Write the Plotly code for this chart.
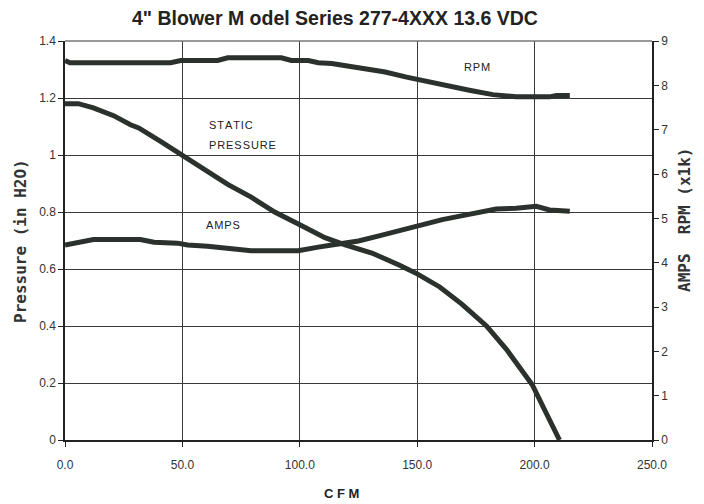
import plotly.graph_objects as go

# Static pressure (in H2O) vs CFM
sp_cfm = [0, 5.7, 12.1, 20.7, 27.9, 31.4, 40.7, 50, 59.3, 69.3, 79.3, 89.3, 100, 110.7, 119.3, 130.7, 142.5, 150, 159.6, 169, 179.5, 188, 199, 206, 210.6]
sp_val = [1.18, 1.18, 1.165, 1.138, 1.106, 1.095, 1.048, 1.0, 0.948, 0.897, 0.852, 0.80, 0.755, 0.71, 0.685, 0.656, 0.613, 0.583, 0.537, 0.477, 0.40, 0.318, 0.194, 0.08, 0.0]

# RPM (x1k) vs CFM
rpm_cfm = [0, 2.1, 45, 49.3, 65, 69.3, 92.1, 96.4, 103.6, 107.9, 113.6, 117.9, 126.4, 136.4, 145, 153.6, 162.1, 172.2, 182.2, 192.1, 206.4, 209.3, 215]
rpm_val = [8.56, 8.51, 8.51, 8.56, 8.56, 8.62, 8.62, 8.56, 8.56, 8.51, 8.49, 8.45, 8.37, 8.30, 8.19, 8.09, 8.0, 7.89, 7.79, 7.74, 7.74, 7.77, 7.77]

# AMPS vs CFM
amp_cfm = [0, 5, 12.1, 32.1, 37.9, 47.9, 52.2, 60.7, 70.7, 79.3, 99.3, 103.5, 107.9, 113.6, 119.3, 125, 135, 143.6, 152.1, 160.7, 169.3, 177.9, 183.6, 192.1, 200.7, 206.4, 215]
amp_val = [4.40, 4.44, 4.52, 4.52, 4.46, 4.44, 4.40, 4.37, 4.31, 4.27, 4.27, 4.32, 4.35, 4.40, 4.44, 4.49, 4.62, 4.74, 4.86, 4.97, 5.06, 5.16, 5.21, 5.23, 5.27, 5.19, 5.16]

x_ticks = [0, 50, 100, 150, 200, 250]
x_tick_text = ["0.0", "50.0", "100.0", "150.0", "200.0", "250.0"]

LINE = "#2b312d"
GRID = "#3a3a3a"
TICKFONT = dict(family="Liberation Sans, Arial", size=12, color="#333333")
LBLFONT = dict(family="Liberation Sans, Arial", size=11, color="#222")
AXFONT = dict(family="DejaVu Sans Mono", size=16, color="#333")
HS = "\u200a"

def spaced(s):
    return HS.join(list(s))

fig = go.Figure()
fig.add_trace(go.Scatter(x=sp_cfm, y=sp_val, mode="lines", line=dict(color=LINE, width=5), yaxis="y", showlegend=False))
fig.add_trace(go.Scatter(x=rpm_cfm, y=rpm_val, mode="lines", line=dict(color=LINE, width=5), yaxis="y2", showlegend=False))
fig.add_trace(go.Scatter(x=amp_cfm, y=amp_val, mode="lines", line=dict(color=LINE, width=5), yaxis="y2", showlegend=False))

# page body has an 8px margin: figure origin sits at (8, 8)
fig.update_layout(
    width=696, height=496,
    margin=dict(l=57, r=52, t=33, b=64, autoexpand=False),
    paper_bgcolor="white", plot_bgcolor="white",
    xaxis=dict(range=[0, 250], tickvals=x_ticks, ticktext=x_tick_text,
               showgrid=True, gridcolor=GRID, gridwidth=1,
               showline=True, linecolor="#222", linewidth=1.5, mirror=False,
               ticks="outside", ticklen=5, tickcolor="#222",
               tickfont=TICKFONT, ticklabelstandoff=8, zeroline=False),
    yaxis=dict(range=[0, 1.4], dtick=0.2, showgrid=True, gridcolor=GRID, gridwidth=1,
               showline=True, linecolor="#222", linewidth=1.5,
               ticks="outside", ticklen=5, tickcolor="#222",
               tickfont=TICKFONT, zeroline=False),
    yaxis2=dict(range=[0, 9], dtick=1, overlaying="y", side="right", showgrid=False,
                showline=True, linecolor="#222", linewidth=1.5,
                ticks="outside", ticklen=5, tickcolor="#222",
                tickfont=TICKFONT, zeroline=False),
    shapes=[dict(type="line", xref="paper", yref="paper", x0=0, x1=1, y0=1, y1=1,
                 line=dict(color="#777", width=1.5))],
    annotations=[
        dict(text="<b>4\" Blower M odel Series 277-4XXX 13.6 VDC</b>", xref="paper", yref="paper",
             x=(335 - 65) / 587, y=1.0, yshift=23, showarrow=False,
             font=dict(family="Liberation Sans, Arial", size=19.5, color="#222"), xanchor="center", yanchor="middle"),
        dict(text="<b>C F M</b>", xref="paper", yref="paper", x=(341 - 65) / 587, y=0, yshift=-53,
             showarrow=False, font=dict(family="Liberation Sans, Arial", size=13, color="#222"),
             xanchor="center", yanchor="middle"),
        dict(text="<b>Pressure (in H2O)</b>", xref="paper", yref="paper", x=0, xshift=-45, y=(440 - 241) / 399,
             textangle=-90, showarrow=False, font=AXFONT, xanchor="center", yanchor="middle"),
        dict(text="<b>AMPS  RPM (x1k)</b>", xref="paper", yref="paper", x=1, xshift=32, y=(440 - 220) / 399,
             textangle=-90, showarrow=False, font=AXFONT, xanchor="center", yanchor="middle"),
        dict(text=spaced("STATIC"), x=60.3, y=1.105, showarrow=False, xanchor="left", font=LBLFONT),
        dict(text=spaced("PRESSURE"), x=60.3, y=1.035, showarrow=False, xanchor="left", font=LBLFONT),
        dict(text=spaced("AMPS"), x=59, y=0.755, showarrow=False, xanchor="left", font=LBLFONT),
        dict(text=spaced("RPM"), x=169, y=1.31, showarrow=False, xanchor="left", font=LBLFONT),
    ],
)

fig.write_html("out.html")
